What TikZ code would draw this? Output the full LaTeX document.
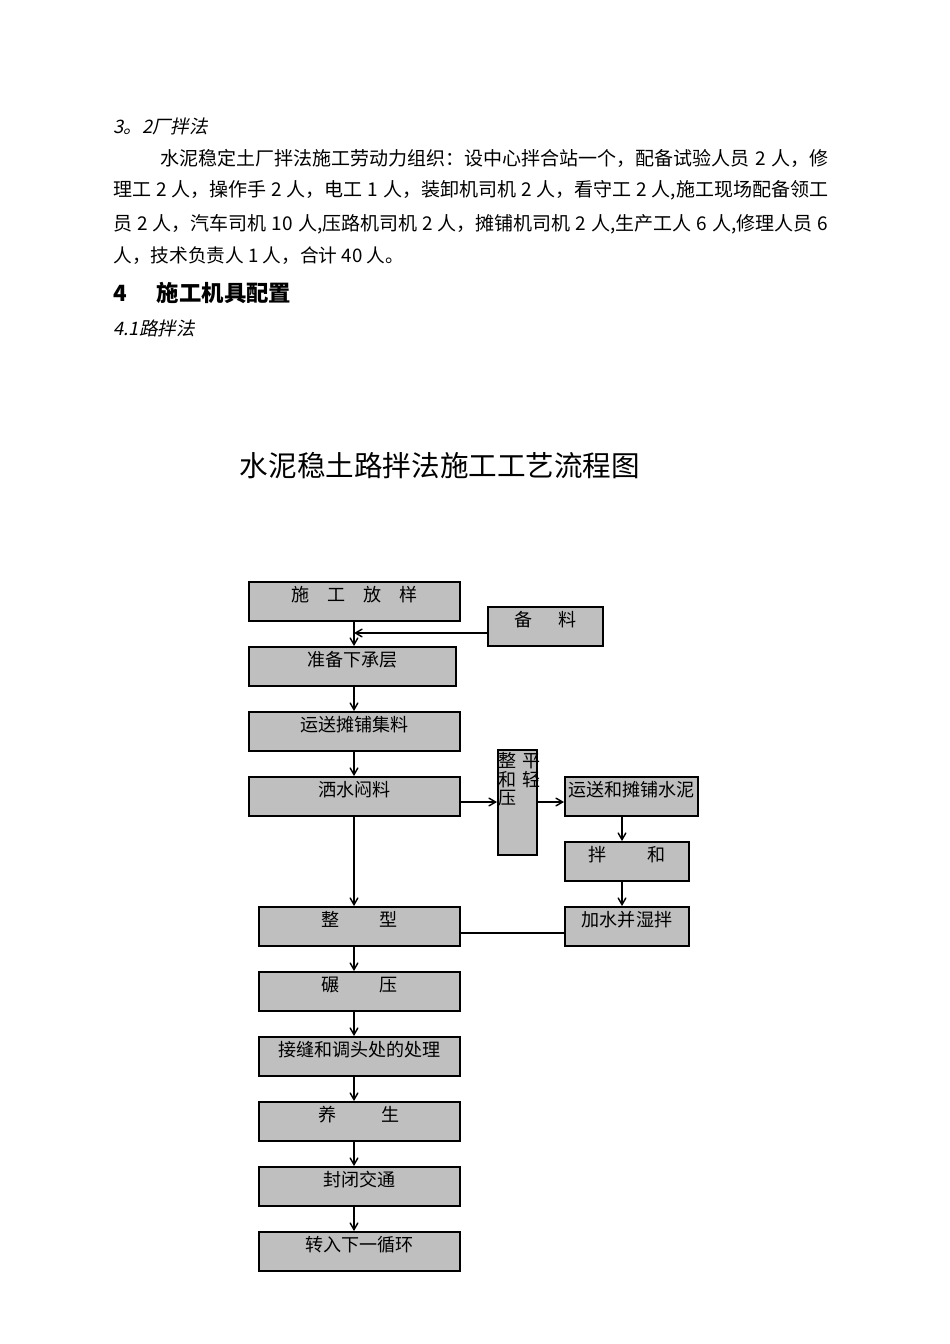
\documentclass[tikz,border=0pt]{standalone}
\usepackage{fontspec}
\setmainfont{Noto Sans CJK SC}
\newfontfamily\slcjk[FakeSlant=0.2]{Noto Sans CJK SC}
\usetikzlibrary{arrows}
\usetikzlibrary{positioning}
\newlength\pxu
\setlength\pxu{0.626pt}
\definecolor{boxgray}{rgb}{0.75, 0.75, 0.75}
\tikzset{box/.style = {draw, line width = 1.2pt, fill = boxgray, inner sep = 0,
    text height = 19\pxu, text depth = 20\pxu, font = \fontsize{11.3}{13}\selectfont}}
\tikzset{flow/.style = {line width = 0.9pt, -angle 60}}
\tikzset{plain/.style = {line width = 0.9pt}}
\tikzset{body/.style = {anchor = west, inner sep = 0, font = \fontsize{11.9}{14}\selectfont}}

\begin{document}
\begin{tikzpicture}[x = \pxu, y = -\pxu]
    \fill [white] (0, 0) rectangle (950, 1344);

    \node [body, font = \slcjk\fontsize{11.6}{14}\selectfont] (sec32) at (113, 126) {3。2厂拌法};
    \node [body] (para1) at (160, 158) {\makebox[668\pxu][s]{水泥稳定土厂拌法施工劳动力组织：设中心拌合站一个，配备试验人员 2 人，修}};
    \node [body] (para2) at (113, 190) {\makebox[715\pxu][s]{理工 2 人，操作手 2 人，电工 1 人，装卸机司机 2 人，看守工 2 人,施工现场配备领工}};
    \node [body] (para3) at (113, 224) {\makebox[715\pxu][s]{员 2 人，汽车司机 10 人,压路机司机 2 人，摊铺机司机 2 人,生产工人 6 人,修理人员 6}};
    \node [body, font = \fontsize{11.7}{14}\selectfont] (para4) at (113, 256) {人，技术负责人 1 人，合计 40 人。};
    \node [body, font = \bfseries\fontsize{14}{16}\selectfont] (sec4) at (113, 293) {4\hspace{30\pxu}施工机具配置};
    \node [body, font = \slcjk\fontsize{11.6}{14}\selectfont] (sec41) at (113, 328) {4.1路拌法};

    \node [font = \fontsize{17.9}{20}\selectfont, inner sep = 0] (title) at (440, 466) {水泥稳土路拌法施工工艺流程图};

    \coordinate (axis) at (354, 0);
    \coordinate (raxis) at (622, 0);

    \node [box, minimum width = 211\pxu] (fangyang) at (354.5, 601.5) {施　工　放　样};
    \node [box, minimum width = 115\pxu] (beiliao) at (545.5, 626.5) {备\hspace{26\pxu}料};
    \node [box, minimum width = 207\pxu] (xiacheng) at (352.5, 666.5) {准备下承层};
    \node [box, minimum width = 211\pxu] (jiliao) at (354.5, 731.5) {运送摊铺集料};
    \node [box, minimum width = 211\pxu] (menliao) at (354.5, 796.5) {洒水闷料};
    \node [box, minimum width = 39\pxu, minimum height = 105\pxu] (qingya) at (517.5, 802.5) {};
    \node [anchor = north west, inner sep = 0, align = left, font = \fontsize{11.3}{11.6}\selectfont]
        (qingyatxt) at ([xshift = 1\pxu, yshift = -3\pxu] qingya.north west) {整\hspace{6\pxu}平\\和\hspace{6\pxu}轻\\压};
    \node [box, minimum width = 133\pxu] (shuini) at (631.5, 796.5) {运送和摊铺水泥};
    \node [box, minimum width = 124\pxu] (banhe) at (627, 861.5) {拌\hspace{41\pxu}和};
    \node [box, minimum width = 124\pxu] (shiban) at (627, 926.5) {加水并湿拌};

    \node [box, minimum width = 201\pxu] (zhengxing) at (359.5, 926.5) {整\hspace{40\pxu}型};
    \node [box, minimum width = 201\pxu] (nianya) at (359.5, 991.5) {碾\hspace{40\pxu}压};
    \node [box, minimum width = 201\pxu] (jiefeng) at (359.5, 1056.5) {接缝和调头处的处理};
    \node [box, minimum width = 201\pxu] (yangsheng) at (359.5, 1121.5) {养\hspace{45\pxu}生};
    \node [box, minimum width = 201\pxu] (fengbi) at (359.5, 1186.5) {封闭交通};
    \node [box, minimum width = 201\pxu] (zhuanru) at (359.5, 1251.5) {转入下一循环};

    \coordinate (bl) at ([yshift = -6.5\pxu] beiliao.west);
    \coordinate (ml) at ([yshift = -5.5\pxu] menliao.east);
    \coordinate (sb) at ([yshift = -6.5\pxu] shiban.west);

    \draw [flow] (fangyang.south -| axis) -- (xiacheng.north -| axis);
    \draw [flow] (bl) -- (bl -| axis);
    \foreach \a/\b in {xiacheng/jiliao, jiliao/menliao, menliao/zhengxing, zhengxing/nianya,
        nianya/jiefeng, jiefeng/yangsheng, yangsheng/fengbi, fengbi/zhuanru}
        \draw [flow] (\a.south -| axis) -- (\b.north -| axis);
    \draw [flow] (ml) -- (ml -| qingya.west);
    \draw [flow] (ml -| qingya.east) -- (ml -| shuini.west);
    \draw [flow] (shuini.south -| raxis) -- (banhe.north -| raxis);
    \draw [flow] (banhe.south -| raxis) -- (shiban.north -| raxis);
    \draw [plain] (sb) -- (sb -| zhengxing.east);
\end{tikzpicture}
\end{document}
